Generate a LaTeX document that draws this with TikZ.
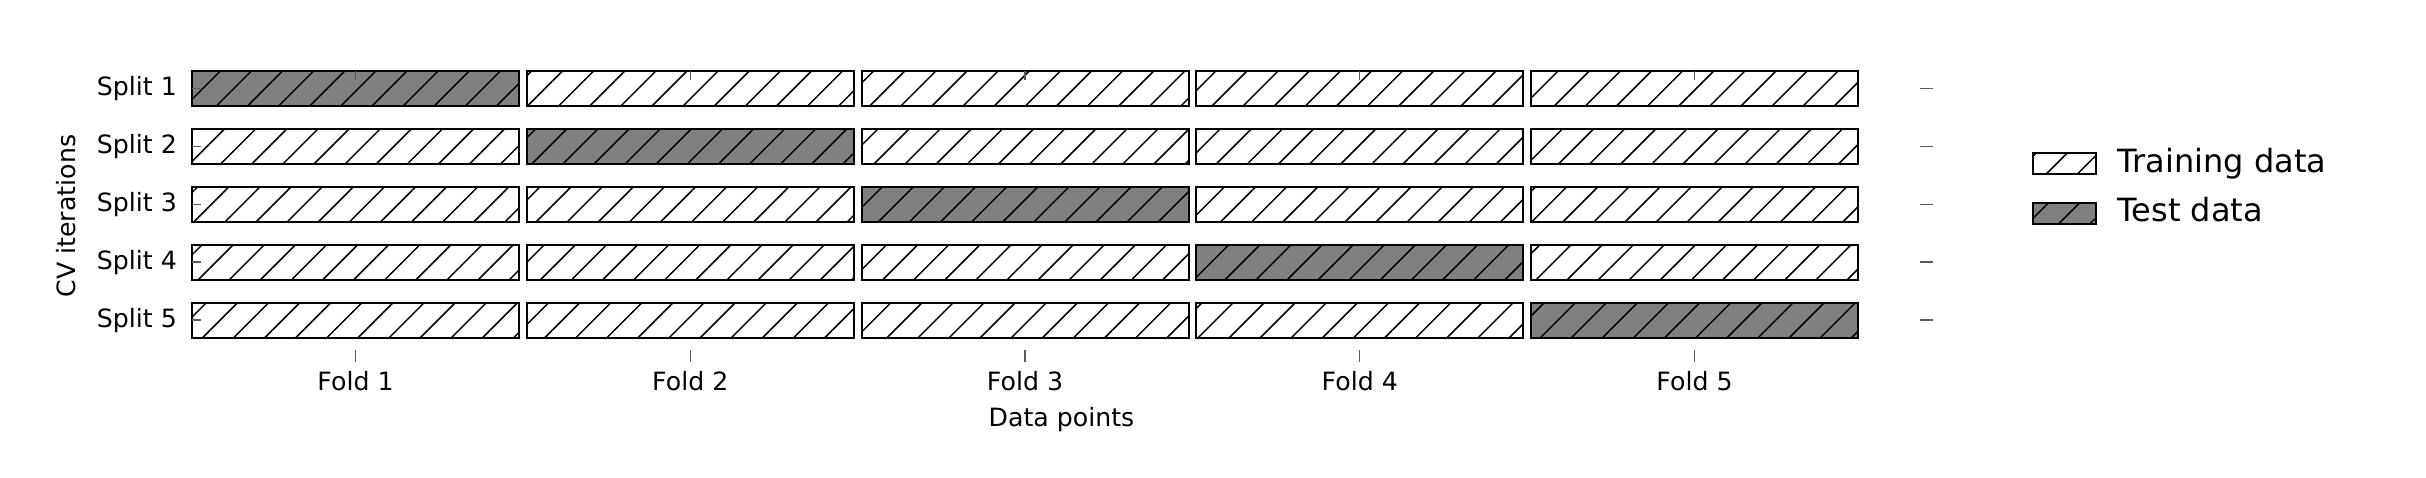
\documentclass[tikz,border=0pt]{standalone}
\usepackage{fontspec}
\setmainfont{DejaVu Sans}
\usetikzlibrary{patterns.meta,positioning}

\begin{document}
\begin{tikzpicture}[x=1pt, y=-1pt, font=\fontsize{25.2}{30}\selectfont,
  bar/.style={draw, line width=2pt, inner sep=0pt, outer sep=0pt,
    minimum width=327pt, minimum height=35pt,
    pattern={Lines[angle=45,distance=22pt,line width=1.5pt]}},
  train/.style={bar},
  test/.style={bar, preaction={fill=black!50}},
  lbl/.style={inner sep=0pt},
  legtxt/.style={lbl, font=\fontsize{32}{38}\selectfont, text height=24pt, text depth=7.5pt},
  tk/.style={draw=black!65, line width=1.4pt}]
\useasboundingbox (0,0) rectangle (2426,478);
% one row of folds per split
\foreach \r in {1,...,5}{
  \foreach \f in {1,...,5}{
    \ifnum\r=\f \def\kind{test}\else\def\kind{train}\fi
    \node[\kind, anchor=north west] (b\r\f) at ({192+334.75*(\f-1)},{71+57.9*(\r-1)}) {};
  }
  \node[lbl, left=15pt of b\r1] (split\r) {Split \r};
  \draw[tk] (b\r1.west) -- ++(9,0);
  \draw[tk] (b\r5.east) ++(62,0) -- ++(13,0);
}
\foreach \f in {1,...,5}{
  \draw[tk] (b1\f.north) -- ++(0,9);
  \draw[tk] (b5\f.south) ++(0,12.5) -- ++(0,12);
  \node[lbl, below=33.7pt of b5\f] (fold\f) {Fold \f};
}
\node[lbl, anchor=base] (xlab) at (1061.5,426) {Data points};
\node[lbl, anchor=base, rotate=90] (ylab) at (75,216) {CV iterations};
% legend
\node[train, minimum width=63pt, minimum height=21pt] (legtrain) at (2064,164) {};
\node[test, minimum width=63pt, minimum height=21pt] (legtest) at (2064,213.4) {};
\node[legtxt, right=22pt of legtrain] (txtrain) {Training data};
\node[legtxt, right=22pt of legtest] (txtest) {Test data};
\end{tikzpicture}
\end{document}
